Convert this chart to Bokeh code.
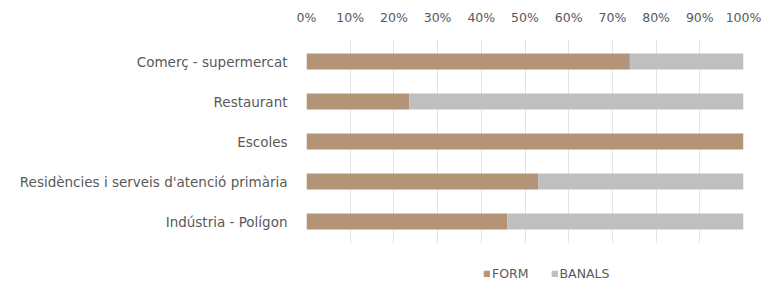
from bokeh.plotting import figure
from bokeh.layouts import column
from bokeh.models import FactorRange, NumeralTickFormatter, Legend, LegendItem, FixedTicker, Range1d
from bokeh.embed import file_html
from bokeh.resources import INLINE

categories = ["Comerç - supermercat", "Restaurant", "Escoles",
              "Residències i serveis d'atenció primària", "Indústria - Polígon"]
form = [0.74, 0.235, 1.0, 0.53, 0.46]
banals = [1 - v for v in form]
series = ["FORM", "BANALS"]
colors = ["#b49477", "#bfbfbf"]
ticks = [i / 10 for i in range(11)]

FONT = "DejaVu Sans"
TXT = "#595959"

factors = categories[::-1]
data = {"cat": categories, "FORM": form, "BANALS": banals}

p = figure(width=763, height=254, output_backend="svg", toolbar_location=None,
           y_range=FactorRange(factors=factors, range_padding=0.02),
           x_range=Range1d(0, 1), x_axis_location="above",
           min_border_left=306, min_border_right=20, min_border_top=39, min_border_bottom=11)

r = p.hbar_stack(series, y="cat", height=0.4, color=colors, source=data, line_color=None)

p.xaxis.ticker = FixedTicker(ticks=ticks)
p.xaxis.formatter = NumeralTickFormatter(format="0%")
for ax in [p.xaxis[0], p.yaxis[0]]:
    ax.axis_line_color = None
    ax.major_tick_line_color = None
    ax.minor_tick_line_color = None
    ax.major_label_text_font = FONT
    ax.major_label_text_color = TXT
p.xaxis.major_label_text_font_size = "12.5px"
p.yaxis.major_label_text_font_size = "13.5px"
p.xaxis.major_label_standoff = 9
p.yaxis.major_label_standoff = 13

p.xgrid.grid_line_color = "#e3e3e3"
p.ygrid.grid_line_color = None
p.outline_line_color = None

# legend panel below the chart (frames aligned with the main chart)
lg = figure(width=763, height=30, output_backend="svg", toolbar_location=None,
            x_axis_type=None, y_axis_type=None, x_range=Range1d(0, 1), y_range=Range1d(0, 1),
            min_border_left=306, min_border_right=20, min_border_top=0, min_border_bottom=0)
lg.outline_line_color = None
lg.grid.visible = False
# zero-size placeholders outside the view, only used to draw the legend swatches
dummy = [lg.hbar(y=[-5], left=[0], right=[0], height=0.1, color=c) for c in colors]
legend = Legend(items=[LegendItem(label=s, renderers=[rr], index=0) for s, rr in zip(series, dummy)],
                orientation="horizontal", location=(177, 3),
                glyph_width=7, glyph_height=7, label_text_font=FONT,
                label_text_font_size="12.5px", label_text_color=TXT,
                spacing=22, label_standoff=2, border_line_color=None,
                padding=0, margin=0, background_fill_alpha=0)
lg.add_layout(legend, "center")

open("out.html", "w").write(file_html(column(p, lg, spacing=0), INLINE))
